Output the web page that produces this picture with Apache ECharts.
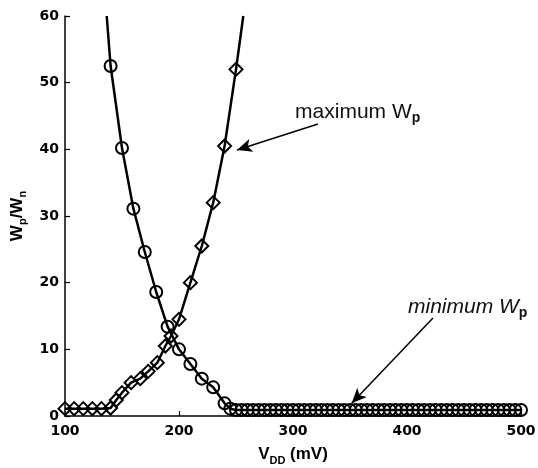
<!DOCTYPE html>
<html>
<head>
<meta charset="utf-8">
<script src="https://cdn.jsdelivr.net/npm/echarts@6/dist/echarts.min.js"></script>
<style>
html,body{margin:0;padding:0;background:#fff;}
#chart{width:538px;height:468px;}
</style>
</head>
<body>
<div id="chart"></div>
<script>
// ---- data ----
const xTicks = [100, 200, 300, 400, 500];
const yTicks = [0, 10, 20, 30, 40, 50, 60];

// minimum Wp curve (circles): point where curve enters from the top of the plot
const circleEntry = [136.6, 60];
const circleX = [140, 150, 160, 170, 180, 190, 200, 210, 220, 230, 240, 245,
  250, 255, 260, 265, 270, 275, 280, 285, 290, 295, 300, 305, 310, 315, 320, 325,
  330, 335, 340, 345, 350, 355, 360, 365, 370, 375, 380, 385, 390, 395, 400, 405,
  410, 415, 420, 425, 430, 435, 440, 445, 450, 455, 460, 465, 470, 475, 480, 485,
  490, 495, 500];
const circleY = [52.5, 40.2, 31.1, 24.6, 18.6, 13.4, 10.0, 7.8, 5.6, 4.3, 1.9, 1.1,
  0.9, 0.9, 0.9, 0.9, 0.9, 0.9, 0.9, 0.9, 0.9, 0.9, 0.9, 0.9, 0.9, 0.9, 0.9, 0.9,
  0.9, 0.9, 0.9, 0.9, 0.9, 0.9, 0.9, 0.9, 0.9, 0.9, 0.9, 0.9, 0.9, 0.9, 0.9, 0.9,
  0.9, 0.9, 0.9, 0.9, 0.9, 0.9, 0.9, 0.9, 0.9, 0.9, 0.9, 0.9, 0.9, 0.9, 0.9, 0.9,
  0.9, 0.9, 0.9];

// maximum Wp curve (diamonds): point where curve leaves through the top
const diamondX = [100, 108, 116, 124, 132, 140, 145, 150, 158, 166, 173, 181, 188, 193,
  200, 210, 220, 230, 240, 250];
const diamondY = [1.1, 1.1, 1.1, 1.1, 1.1, 1.2, 2.4, 3.5, 5.0, 5.6, 6.7, 8.0, 10.5, 12.0,
  14.5, 20.0, 25.5, 32.0, 40.5, 52.0];
const diamondExit = [256.4, 60];

// annotations
const maxLabel = {text: 'maximum', sub: 'p', at: [301.8, 45.6]};
const maxArrow = {from: [321.9, 43.8], to: [250.9, 39.9]};
const minLabel = {text: 'minimum', sub: 'p', at: [400.9, 16.3]};
const minArrow = {from: [422.8, 14.7], to: [351.5, 1.9]};

// ---- chart ----
const chart = echarts.init(document.getElementById('chart'), null, {renderer: 'canvas'});

const circleData = [{value: circleEntry, symbol: 'none'}]
  .concat(circleX.map((x, i) => [x, circleY[i]]));
const diamondData = diamondX.map((x, i) => [x, diamondY[i]])
  .concat([{value: diamondExit, symbol: 'none'}]);

const tickFont = {fontFamily: 'DejaVu Sans', fontWeight: 'bold', fontSize: 14, color: '#000'};
const markerStyle = {color: 'rgba(255,255,255,0)', borderColor: '#000', borderWidth: 2};
const noteFont = 'Liberation Sans';

function noteRich(italic) {
  return {
    a: {fontFamily: noteFont, fontSize: 21, fontStyle: italic ? 'italic' : 'normal', color: '#111', lineHeight: 26},
    s: {fontFamily: noteFont, fontSize: 14, fontStyle: 'normal', fontWeight: 'bold', color: '#111', lineHeight: 6, verticalAlign: 'bottom'}
  };
}
function nameStyle(size, subSize) {
  return {
    fontFamily: 'Liberation Sans', fontWeight: 'bold', fontSize: size, color: '#000', lineHeight: size + 6,
    rich: {s: {fontFamily: 'Liberation Sans', fontWeight: 'bold', fontSize: subSize, color: '#000', lineHeight: 4, verticalAlign: 'bottom'}}
  };
}

const option = {
  animation: false,
  backgroundColor: '#fff',
  grid: {left: 65, right: 17, top: 16, bottom: 52, containLabel: false, outerBoundsMode: 'none'},
  xAxis: {
    type: 'value', min: xTicks[0], max: xTicks[xTicks.length - 1], interval: 100,
    name: 'V{s|DD} (mV)', nameLocation: 'middle', nameGap: 27,
    nameTextStyle: nameStyle(17, 11),
    axisLine: {lineStyle: {color: '#000', width: 1.5}},
    axisTick: {inside: true, length: 5, lineStyle: {color: '#000', width: 1.2}},
    axisLabel: Object.assign({margin: 8}, tickFont),
    splitLine: {show: false}
  },
  yAxis: {
    type: 'value', min: yTicks[0], max: yTicks[yTicks.length - 1], interval: 10,
    name: 'W{s|p}/W{s|n}', nameLocation: 'middle', nameGap: 4,
    nameTextStyle: nameStyle(17, 11),
    axisLine: {show: true, lineStyle: {color: '#000', width: 1.5}},
    axisTick: {show: true, inside: true, length: 5, lineStyle: {color: '#000', width: 1.2}},
    axisLabel: Object.assign({margin: 6}, tickFont),
    splitLine: {show: false}
  },
  series: [
    {
      name: 'minimum Wp', type: 'line', data: circleData,
      symbol: 'circle', symbolSize: 12, showAllSymbol: true,
      lineStyle: {color: '#000', width: 2.5},
      itemStyle: markerStyle,
      z: 3,
      markPoint: {
        symbol: 'circle', symbolSize: 0, silent: true,
        data: [{
          coord: minLabel.at,
          label: {show: true, position: 'right', distance: 0,
            formatter: '{a|' + minLabel.text + ' W}{s|' + minLabel.sub + '}', rich: noteRich(true)}
        }, {
          coord: maxLabel.at,
          label: {show: true, position: 'right', distance: 0,
            formatter: '{a|' + maxLabel.text + ' W}{s|' + maxLabel.sub + '}', rich: noteRich(false)}
        }]
      },
      markLine: {
        silent: true, symbol: ['none', 'arrow'], symbolSize: [10, 15],
        label: {show: false},
        lineStyle: {color: '#000', width: 1.5, type: 'solid'},
        data: [
          [{coord: maxArrow.from}, {coord: maxArrow.to}],
          [{coord: minArrow.from}, {coord: minArrow.to}]
        ]
      }
    },
    {
      name: 'maximum Wp', type: 'line', data: diamondData,
      symbol: 'diamond', symbolSize: 13, showAllSymbol: true,
      lineStyle: {color: '#000', width: 2.5},
      itemStyle: markerStyle,
      z: 3
    }
  ]
};
chart.setOption(option);
</script>
</body>
</html>
